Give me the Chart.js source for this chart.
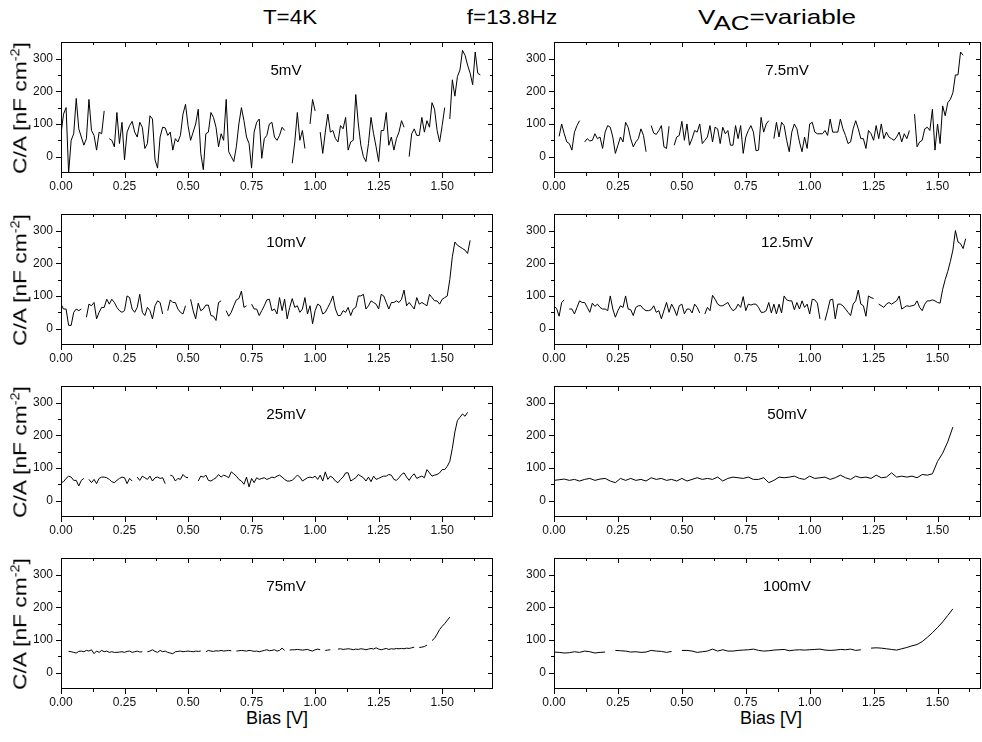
<!DOCTYPE html>
<html>
<head>
<meta charset="utf-8">
<script src="https://cdn.jsdelivr.net/npm/chart.js@4.4.0/dist/chart.umd.min.js"></script>
<style>
html, body { margin: 0; padding: 0; background: #fff; overflow: hidden; }
#page { position: relative; width: 982px; height: 742px; overflow: hidden;
        font-family: "Liberation Sans", Arial, sans-serif; color: #000; }
#page canvas { position: absolute; }
.txt { position: absolute; white-space: nowrap; }
.head { font-size: 20px; top: 6px; transform: translateX(-50%) scaleX(1.12); }
.head.vac { font-size: 21px; top: 5px; transform: translateX(-50%) scaleX(1.24); }
.tag { font-size: 14px; transform: translate(-50%, -50%) scaleX(1.08); }
.ytitle { font-size: 19px; transform: translate(-50%, -50%) rotate(-90deg) scaleX(1.2); }
.ytitle sup { font-size: 12px; }
.xtitle { font-size: 18px; top: 708px; transform: translateX(-50%); }
</style>
</head>
<body>
<div id="page">
  <div class="txt head" style="left:290px">T=4K</div>
  <div class="txt head" style="left:512px">f=13.8Hz</div>
  <div class="txt head vac" style="left:777px">V<span style="position:relative;top:6px">AC</span>=variable</div>
  <div class="txt xtitle" style="left:277px">Bias [V]</div>
  <div class="txt xtitle" style="left:771px">Bias [V]</div>
</div>
<script>
// axes
const BIAS_TICKS = [0, 0.25, 0.5, 0.75, 1, 1.25, 1.5];
const BIAS_MINOR = [0.125, 0.375, 0.625, 0.875, 1.125, 1.375, 1.625];
const CAP_TICKS = [0, 100, 200, 300];
const CAP_MINOR = [50, 150, 250];

// C/A en nF cm-2, un point tous les STEP volts, null = trou dans la mesure
const cap5mV = [
  70, 130, 150, -50, 50, 70, 178, 85, 60, 35, 55, 175, 80, 65, 20, 75, 70, 140,
  null,
  55, 50, 30, 135, 40, 105, -10, 75, 95, 108, 75, 60, 105, 90, 25, 40, 125, 115, -10, -35,
  60, 90, 88, 65, 75, 20, 55, 45, 65, 130, 160, 95, 50, 75, 100, 145, 10, -40, 70, 75,
  135, 120, 90, 30, 70, 50, 175, 15, 0, -15, 30, 100, 150, 110, 60, 40, -35, 75, 105, 115,
  -5, 55, 65, 100, 105, 60, 50, 65, 90, 80,
  null, null,
  -20, 45, 135, 50, 80, 25,
  null,
  100, 175, 140,
  null,
  75, 10, 75, 130, 75, 80, 55, 45, 95, 85, 120, 20, 45, 50, 190, 100, 35, 0, -15, 40,
  120, 70, 30, -15, 80, 80, 135, 35, 60, 20, 55, 75, 110, 90,
  null,
  0, 70, 85, 65, 65, 120, 75, 110, 90, 165, 145, 80, 45, 95, 150,
  null,
  115, 235, 185, 245, 265, 325, 310, 280, 255, 220, 320, 255, 250
];

const cap7_5mV = [
  62, 100, 70, 45, 40, 20, 75, 95, 110,
  null,
  45, 55, 48, 50, 70, 55, 60, 25, 75, 95, 90, 60, 10, 35, 60, 45, 105, 90, 55, 30,
  45, 55, 85, 65, 15,
  null,
  95, 72, 68, 80, 95, 30, 25, 93,
  null,
  35, 60, 65, 108, 50, 100, 35, 55, 80, 75, 100, 40, 50, 60, 95, 45, 90, 85, 40, 90,
  70, 80, 35, 35, 95, 55, 95, 10, 60, 80, 95, 75, 18, 20, 120, 75, 100, 110,
  null,
  55, 105, 60, 105, 95, 50, 15, 75, 100, 85, 45, 15, 60, 25, 100, 105, 75, 70, 70, 70,
  80, 65, 115, 75, 75, 75, 115, 85, 65, 40, 45, 85, 110, 85, 55, 55, 25, 80, 70, 50,
  95, 55, 100, 55, 75, 60, 55, 50, 60, 75, 45, 70, 55, 80,
  null,
  130, 30, 45, 50, 85, 90, 80, 145, 20, 100, 40, 155, 125, 165, 175, 195, 250, 250, 320, 310
];

const cap10mV = [
  75, 60, 60, 10, 10, 50, 60, 55, 60,
  null,
  35, 75, 70, 80, 30, 50, 65, 65, 90, 75, 90, 80, 65, 55, 50, 55, 100, 95, 60, 50,
  65, 105, 50, 40, 65, 55, 30, 70, 85, 80, 45,
  null,
  55, 88, 80, 80, 60, 50, 45, 70,
  null,
  90, 55, 30, 78, 55, 60, 72, 72, 40, 38, 25, 80, 85,
  null,
  55, 38, 50, 70, 88, 92, 115, 65, 70,
  null,
  75, 60, 60, 40, 55, 70, 88, 90, 55, 60, 45, 95, 55, 90, 30, 65, 92, 65, 70, 50,
  60, 95, 45, 70, 15, 55, 75, 70, 45, 50, 65, 80, 100, 60, 40, 40, 55, 50, 65, 40,
  60, 65, 100, 100, 105, 60, 70, 85, 80, 75, 60, 105, 100, 80, 60, 80, 80, 85, 80, 90,
  118, 70, 80, 70, 60, 95, 75, 80, 75, 70, 105, 95, 85, 85, 75, 90, 95, 100, 150, 220,
  265, 255, 250, 245, 240, 230, 270
];

const cap12_5mV = [
  68, 62, 38, 80, 88,
  null,
  60, 60, 45, 65, 85, 80, 80, 65, 50, 78, 68, 75, 65, 60, 60, 55, 100, 60, 35, 55,
  70, 65, 100, 60, 58, 40, 65, 70, 70, 60, 55, 55, 58, 70, 50, 55, 30, 55, 80, 50,
  75, 60, 40, 70, 75, 45, 60, 60, 48, 75, 65, 48,
  null,
  45, 65, 55, 102, 90, 75, 70, 70, 75, 80, 65, 55, 60, 75, 65, 98, 55, 75, 72, 75,
  75, 65, 50, 50, 55, 80, 48, 75, 45, 75, 48, 100, 88, 85, 85, 58, 80, 60, 85, 65,
  75, 45, 90, 88, 78, 30,
  null,
  25, 55, 88, 90, 30, 75, 75, 70, 60, 50, 40, 75, 85, 118, 75, 70, 38, 100, 95, 92,
  null,
  75, 70, 65, 75, 80, 75, 80, 85, 100, 60, 65, 70, 68, 70, 72, 85, 65, 55, 75, 85,
  85, 88, 85, 80, 78, 120, 150, 175, 205, 240, 300, 265, 260, 245, 275
];

const cap25mV = [
  55, 58, 68, 75, 72, 62, 62, 45, 62, 68,
  null,
  65, 55, 65, 52, 68, 72, 72, 70, 65, 58, 55, 62, 68, 72, 70, 52, 68, 60,
  null,
  72, 62, 75, 70, 65, 75, 60, 70, 72, 68, 70, 52,
  null,
  78, 75, 60, 68, 65, 80, 72, 70,
  null, null, null,
  60, 75, 72, 78, 62, 60, 65, 70, 80, 72, 78, 75, 70, 88, 82, 75, 65,
  60, 50, 72, 42, 68, 55, 70, 65, 68, 70, 65, 68, 72, 70,
  75, 78, 72, 65, 60, 60, 62, 70, 78, 72, 60, 65, 70, 72, 70, 75, 65, 78, 60, 88,
  65, 75, 70, 60, 55, 65, 72, 85, 85, 60, 65, 70, 80, 75, 70, 60, 72, 58, 75, 65,
  68, 72, 75, 75, 80, 78, 65, 62, 70, 80, 85, 72, 62, 75, 82, 68, 72, 75, 70, 95,
  85, 75, 78, 80, 85, 95, 95, 105, 120, 160, 210, 245, 255, 265, 258, 270
];

const cap50mV = [
  62, 64, 66, 62, 65, 60, 65, 68, 62, 66, 68, 60, 55, 68, 62, 68, 62, 65, 60, 70,
  65, 68, 62, 65, 60, 68, 60, 65, 70, 65, 68, 65, 72, 60, 68, 72, 70, 68, 72, 65,
  65, 70, 55, 62, 72, 70, 72, 75, 68, 65, 75, 68, 70, 72, 65, 70, 78, 70, 65, 75,
  70, 72, 68, 78, 70, 72, 85, 72, 75, 72, 75, 70, 80, 78, 82, 120, 145, 180, 225
];

const cap75mV = [
  65, 64, 62, 60, 65, 66, 64, 68, 66, 70, 58, 66, 62, 68, 64, 66, 62, 64, 62, 62,
  63, 64, 62, 65, 66, 62, 64, 66, 63, 64,
  null,
  64, 66, 70, 65, 62, 68, 64, 66, 62, 60, 58, 64, 65, 66, 64, 65, 66, 65, 64, 66, 65, 66,
  null,
  64, 68, 66, 65, 67, 66, 68, 66, 67, 68, 67,
  null,
  66, 67, 68, 67, 66, 68, 67, 65, 66, 64, 66, 68, 70, 67, 68, 70, 66, 68, 75, 68,
  null,
  69, 70, 70, 71, 70, 69, 70, 71, 68, 66, 70, 72, 70,
  null,
  68, 69, 70,
  null, null,
  72, 73, 71, 72, 73, 72, 70, 72, 71, 73, 72, 70, 72, 74, 72, 76, 72, 70, 72, 74,
  71, 73, 72, 74, 73, 74, 73, 75, 74, 76, 78,
  null,
  77, 78, 80, 84,
  null,
  98, 105, 118, 132, 142, 150, 160, 170
];

const cap100mV = [
  63, 62, 60, 61, 64, 62, 66, 64, 60, 62, 63,
  null,
  68, 67, 66, 63, 64, 62, 63, 68, 66, 65, 62, 65,
  null,
  68, 68, 66, 62, 64, 66, 72, 66, 70, 66, 66, 68, 69, 70, 72, 68, 66, 67, 69, 70,
  71, 67, 69, 70, 69, 70, 71, 72, 69, 68, 69, 71, 70, 72, 68, 70,
  null,
  75, 76, 75, 73, 71, 69, 73, 77, 82, 86, 95, 108, 122, 138, 155, 175, 195
];

const FONT = '"Liberation Sans", Arial, sans-serif';
// la colonne de droite est coupee par le bord de l'image
const COLS = [{ x0: 61, x1: 493, xmax: 1.7 }, { x0: 554, x1: 981, xmax: 1.67 }];
const ROWS = [42, 214, 386, 558];
const PLOT_H = 131;
const PAD_L = 46, PAD_T = 6, PAD_R = 6, PAD_B = 24;

const panels = [
  { label: '5mV',    values: cap5mV,    start: 0,    step: 0.01, col: 0, row: 0 },
  { label: '7.5mV',  values: cap7_5mV,  start: 0.02, step: 0.01, col: 1, row: 0 },
  { label: '10mV',   values: cap10mV,   start: 0,    step: 0.01, col: 0, row: 1 },
  { label: '12.5mV', values: cap12_5mV, start: 0,    step: 0.01, col: 1, row: 1 },
  { label: '25mV',   values: cap25mV,   start: 0,    step: 0.01, col: 0, row: 2 },
  { label: '50mV',   values: cap50mV,   start: 0,    step: 0.02, col: 1, row: 2 },
  { label: '75mV',   values: cap75mV,   start: 0.03, step: 0.01, col: 0, row: 3 },
  { label: '100mV',  values: cap100mV,  start: 0,    step: 0.02, col: 1, row: 3 }
];

// cadre + graduations facon Origin
const frameTicks = {
  id: 'frameTicks',
  afterDraw(chart) {
    const { ctx, chartArea: a, scales: { x, y } } = chart;
    const L = Math.round(a.left), R = Math.round(a.right);
    const T = Math.round(a.top), B = Math.round(a.bottom);
    ctx.save();
    ctx.strokeStyle = '#000';
    ctx.lineWidth = 1;
    ctx.strokeRect(L + 0.5, T + 0.5, R - L - 1, B - T - 1);
    ctx.beginPath();
    const xMark = (v, len) => {
      if (v > x.max) return;
      const px = Math.round(x.getPixelForValue(v)) + 0.5;
      ctx.moveTo(px, B); ctx.lineTo(px, B + len);
      ctx.moveTo(px, T); ctx.lineTo(px, T + len);
    };
    const yMark = (v, len) => {
      const py = Math.round(y.getPixelForValue(v)) + 0.5;
      ctx.moveTo(L - len, py); ctx.lineTo(L, py);
      ctx.moveTo(R - len, py); ctx.lineTo(R, py);
    };
    BIAS_TICKS.forEach(v => xMark(v, 5));
    BIAS_MINOR.forEach(v => xMark(v, 3));
    CAP_TICKS.forEach(v => yMark(v, 5));
    CAP_MINOR.forEach(v => yMark(v, 3));
    ctx.stroke();
    ctx.restore();
  }
};

const page = document.getElementById('page');

panels.forEach(p => {
  const col = COLS[p.col];
  const top = ROWS[p.row];
  const cv = document.createElement('canvas');
  cv.width = (col.x1 - col.x0) + PAD_L + PAD_R;
  cv.height = PLOT_H + PAD_T + PAD_B;
  page.appendChild(cv);

  const pts = p.values.map((v, i) => ({ x: +(p.start + i * p.step).toFixed(3), y: v }));

  const chart = new Chart(cv, {
    type: 'line',
    data: {
      datasets: [{
        data: pts,
        borderColor: '#000',
        borderWidth: 1,
        pointRadius: 0,
        tension: 0,
        spanGaps: false,
        fill: false
      }]
    },
    options: {
      responsive: false,
      maintainAspectRatio: false,
      animation: false,
      devicePixelRatio: 1,
      layout: { padding: { top: PAD_T, right: PAD_R, left: 0, bottom: 0 } },
      plugins: { legend: { display: false }, tooltip: { enabled: false } },
      scales: {
        x: {
          type: 'linear', min: 0, max: col.xmax,
          grid: { display: false, drawTicks: false }, border: { display: false },
          afterBuildTicks: s => { s.ticks = BIAS_TICKS.map(v => ({ value: v })); },
          afterFit: s => { s.height = PAD_B; },
          ticks: {
            padding: 6, maxRotation: 0, autoSkip: false, color: '#111',
            font: { family: FONT, size: 12 },
            callback: v => Number(v).toFixed(2)
          }
        },
        y: {
          min: -50, max: 350,
          grid: { display: false, drawTicks: false }, border: { display: false },
          afterBuildTicks: s => { s.ticks = CAP_TICKS.map(v => ({ value: v })); },
          afterFit: s => { s.width = PAD_L; },
          ticks: {
            padding: 8, color: '#111',
            font: { family: FONT, size: 12 },
            callback: v => String(v)
          }
        }
      }
    },
    plugins: [frameTicks]
  });

  // recaler la zone de trace sur la position voulue
  const a = chart.chartArea;
  const dh = Math.round(PLOT_H - (a.bottom - a.top));
  const dw = Math.round((col.x1 - col.x0) - (a.right - a.left));
  if (dh || dw) chart.resize(cv.width + dw, cv.height + dh);
  cv.style.left = Math.round(col.x0 - chart.chartArea.left) + 'px';
  cv.style.top = Math.round(top - chart.chartArea.top) + 'px';

  // etiquette de la tension AC
  const tag = document.createElement('div');
  tag.className = 'txt tag';
  tag.textContent = p.label;
  tag.style.left = (p.col === 0 ? 286 : 787) + 'px';
  tag.style.top = (top + 28) + 'px';
  page.appendChild(tag);

  // titre de l'axe Y, uniquement colonne de gauche
  if (p.col === 0) {
    const yt = document.createElement('div');
    yt.className = 'txt ytitle';
    yt.innerHTML = 'C/A [nF cm<sup>-2</sup>]';
    yt.style.left = '20px';
    yt.style.top = (top + PLOT_H / 2) + 'px';
    page.appendChild(yt);
  }
});
</script>
</body>
</html>
